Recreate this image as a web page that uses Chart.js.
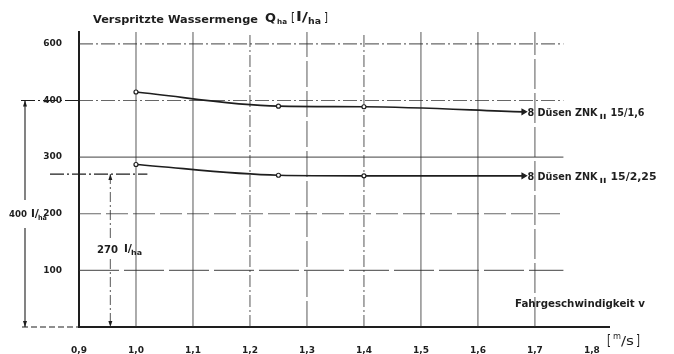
<!DOCTYPE html>
<html>
<head>
<meta charset="utf-8">
<script src="https://cdn.jsdelivr.net/npm/chart.js@4"></script>
<style>
    body { margin: 0; background: #fff; }
    #wrap { width: 674px; height: 354px; position: relative; }
</style>
</head>
<body>
<div id="wrap"><canvas id="wasserChart"></canvas></div>
<script>
// Fahrgeschwindigkeit [m/s]
const speeds = [1.0, 1.25, 1.4, 1.68];
// versprühte Wassermenge [l/ha]
const water16 = [415, 390, 389, 380];
const water225 = [287, 268, 267, 267];
const seriesNames = ['8 Düsen ZNK', '8 Düsen ZNK'];
const seriesSuffix = ['15/1,6', '15/2,25'];

const xTickLabels = ['0,9', '1,0', '1,1', '1,2', '1,3', '1,4', '1,5', '1,6', '1,7', '1,8'];
const yTickLabels = ['100', '200', '300', '400', '600'];
const markLevels = [400, 270]; // Bemaßungen links

const INK = '#1e1e1e';
const GRID = 'rgba(45,45,45,0.72)';
const FONT = '"DejaVu Sans"';

// dash muster der gitterlinien (sieht aus wie im scan)
const yGridDash = [[40, 5], [22, 5], [], [14, 3, 2, 3], [14, 3, 2, 3]];
const xGridDash = [[], [], [12, 3, 2, 3], [26, 4], [12, 3, 2, 3], [], [], [30, 4]];

function fitText(ctx, text, x, y, w, font) {
    ctx.save();
    ctx.font = font;
    const m = ctx.measureText(text).width;
    ctx.translate(x, y);
    ctx.scale(w / m, 1);
    ctx.fillText(text, 0, 0);
    ctx.restore();
}

const gridPlugin = {
    id: 'gridPlugin',
    beforeDatasetsDraw(chart) {
        const ctx = chart.ctx;
        const xs = chart.scales.x;
        const ys = chart.scales.y;
        ctx.save();
        ctx.strokeStyle = GRID;
        ctx.lineWidth = 1.1;
        [100, 200, 300, 400, 500].forEach((v, i) => {
            ctx.setLineDash(yGridDash[i]);
            ctx.beginPath();
            ctx.moveTo(xs.getPixelForValue(0.9), ys.getPixelForValue(v));
            ctx.lineTo(xs.getPixelForValue(1.75), ys.getPixelForValue(v));
            ctx.stroke();
        });
        [1.0, 1.1, 1.2, 1.3, 1.4, 1.5, 1.6, 1.7].forEach((v, i) => {
            ctx.setLineDash(xGridDash[i]);
            ctx.beginPath();
            ctx.moveTo(xs.getPixelForValue(v), ys.getPixelForValue(0));
            ctx.lineTo(xs.getPixelForValue(v), chart.chartArea.top);
            ctx.stroke();
        });
        ctx.restore();
    }
};

function arrowHead(ctx, x, y, dir) {
    ctx.beginPath();
    ctx.moveTo(x, y);
    ctx.lineTo(x - 2, y - dir * 6);
    ctx.lineTo(x + 2, y - dir * 6);
    ctx.closePath();
    ctx.fill();
}

const textPlugin = {
    id: 'textPlugin',
    afterDraw(chart) {
        const ctx = chart.ctx;
        const xs = chart.scales.x;
        const ys = chart.scales.y;
        ctx.save();
        ctx.fillStyle = INK;
        ctx.strokeStyle = INK;
        ctx.textBaseline = 'middle';

        // titel
        fitText(ctx, 'Verspritzte Wassermenge', 93, 20, 165, 'bold 11px ' + FONT);
        fitText(ctx, 'Q', 265, 19, 11, 'bold 12px ' + FONT);
        fitText(ctx, 'ha', 277, 22, 10, 'bold 7px ' + FONT);
        fitText(ctx, '[', 291, 19, 4, '13px ' + FONT);
        fitText(ctx, 'l/', 296, 18, 12, 'bold 12px ' + FONT);
        fitText(ctx, 'ha', 308, 22, 13, 'bold 8px ' + FONT);
        fitText(ctx, ']', 324, 19, 4, '13px ' + FONT);

        // serien beschriftung am pfeil
        [water16, water225].forEach((arr, i) => {
            const last = arr.length - 1;
            const y = ys.getPixelForValue(arr[last]) + 1;
            const x0 = xs.getPixelForValue(speeds[last]) + 4;
            fitText(ctx, seriesNames[i], x0, y, 70, 'bold 11px ' + FONT);
            fitText(ctx, 'II', x0 + 72, y + 4, 7, 'bold 7px ' + FONT);
            fitText(ctx, seriesSuffix[i], x0 + 83, y, i === 0 ? 34 : 46, 'bold 11px ' + FONT);
        });

        // bemaßung 400 l/ha
        const y0 = ys.getPixelForValue(0);
        const y400 = ys.getPixelForValue(markLevels[0]);
        const y270 = ys.getPixelForValue(markLevels[1]);
        const left = xs.getPixelForValue(0.9);
        ctx.lineWidth = 1.1;
        ctx.setLineDash([14, 3, 2, 3]);
        ctx.beginPath();
        ctx.moveTo(21, y400); ctx.lineTo(left, y400);
        ctx.moveTo(50, y270); ctx.lineTo(xs.getPixelForValue(1.02), y270);
        ctx.stroke();
        ctx.setLineDash([6, 3]);
        ctx.beginPath();
        ctx.moveTo(22, y0); ctx.lineTo(left, y0);
        ctx.stroke();
        ctx.setLineDash([]);
        ctx.beginPath();
        ctx.moveTo(25, y400); ctx.lineTo(25, 200);
        ctx.moveTo(25, 228); ctx.lineTo(25, y0);
        ctx.stroke();
        arrowHead(ctx, 25, y400, -1);
        arrowHead(ctx, 25, y0, 1);
        fitText(ctx, '400', 9, 215, 18, 'bold 9px ' + FONT);
        fitText(ctx, 'l/', 31, 214, 8, 'bold 10px ' + FONT);
        fitText(ctx, 'ha', 38, 218, 9, 'bold 7px ' + FONT);

        // bemaßung 270 l/ha
        const xd = xs.getPixelForValue(0.955);
        ctx.strokeStyle = GRID;
        ctx.setLineDash([10, 3, 2, 3]);
        ctx.beginPath();
        ctx.moveTo(xd, y270); ctx.lineTo(xd, 241);
        ctx.moveTo(xd, 259); ctx.lineTo(xd, y0);
        ctx.stroke();
        ctx.setLineDash([]);
        arrowHead(ctx, xd, y270, -1);
        arrowHead(ctx, xd, y0, 1);
        fitText(ctx, '270', 97, 250, 21, 'bold 10px ' + FONT);
        fitText(ctx, 'l/', 124, 249, 8, 'bold 10px ' + FONT);
        fitText(ctx, 'ha', 131, 253, 11, 'bold 7px ' + FONT);

        // achsenbeschriftung x
        fitText(ctx, 'Fahrgeschwindigkeit v', 515, 304, 130, 'bold 10px ' + FONT);
        fitText(ctx, '[', 607, 341, 4, '14px ' + FONT);
        fitText(ctx, 'm', 613, 337, 8, '9px ' + FONT);
        fitText(ctx, '/s', 621, 342, 13, '12px ' + FONT);
        fitText(ctx, ']', 636, 341, 4, '14px ' + FONT);
        ctx.restore();
    }
};

function toPoints(ys) {
    return speeds.map((x, i) => ({ x: x, y: ys[i] }));
}

function seriesStyle() {
    return {
        borderColor: INK,
        borderWidth: 1.7,
        cubicInterpolationMode: 'monotone',
        pointStyle: ['circle', 'circle', 'circle', 'triangle'],
        rotation: [0, 0, 0, 90],
        pointRadius: [2, 2, 2, 3],
        pointBackgroundColor: ['#fff', '#fff', '#fff', INK],
        pointBorderColor: INK,
        pointBorderWidth: 1.2
    };
}

const ctx = document.getElementById('wasserChart').getContext('2d');
const wasserChart = new Chart(ctx, {
    type: 'line',
    data: {
        datasets: [
            Object.assign({ label: seriesNames[0] + ' ' + seriesSuffix[0], data: toPoints(water16) }, seriesStyle()),
            Object.assign({ label: seriesNames[1] + ' ' + seriesSuffix[1], data: toPoints(water225) }, seriesStyle())
        ]
    },
    options: {
        responsive: true,
        maintainAspectRatio: false,
        animation: false,
        layout: { padding: { top: 32, right: 65, left: 0, bottom: 0 } },
        plugins: {
            legend: { display: false },
            tooltip: { enabled: false }
        },
        scales: {
            x: {
                type: 'linear',
                min: 0.9,
                max: 1.83,
                grid: { display: false },
                border: { display: true, color: INK, width: 2 },
                ticks: {
                    stepSize: 0.1,
                    includeBounds: false,
                    padding: 10,
                    maxRotation: 0,
                    color: INK,
                    font: { family: FONT, size: 9, weight: 'bold' },
                    callback: (v) => xTickLabels[Math.round(v * 10) - 9]
                },
                afterFit: (s) => { s.height = 27; }
            },
            y: {
                min: 0,
                max: 521,
                grid: { display: false },
                border: { display: true, color: INK, width: 2 },
                ticks: {
                    stepSize: 100,
                    includeBounds: false,
                    padding: 9,
                    color: INK,
                    font: { family: FONT, size: 9, weight: 'bold' },
                    callback: (v) => yTickLabels[Math.round(v / 100) - 1]
                },
                afterFit: (s) => { s.width = 79; }
            }
        }
    },
    plugins: [gridPlugin, textPlugin]
});
</script>
</body>
</html>
